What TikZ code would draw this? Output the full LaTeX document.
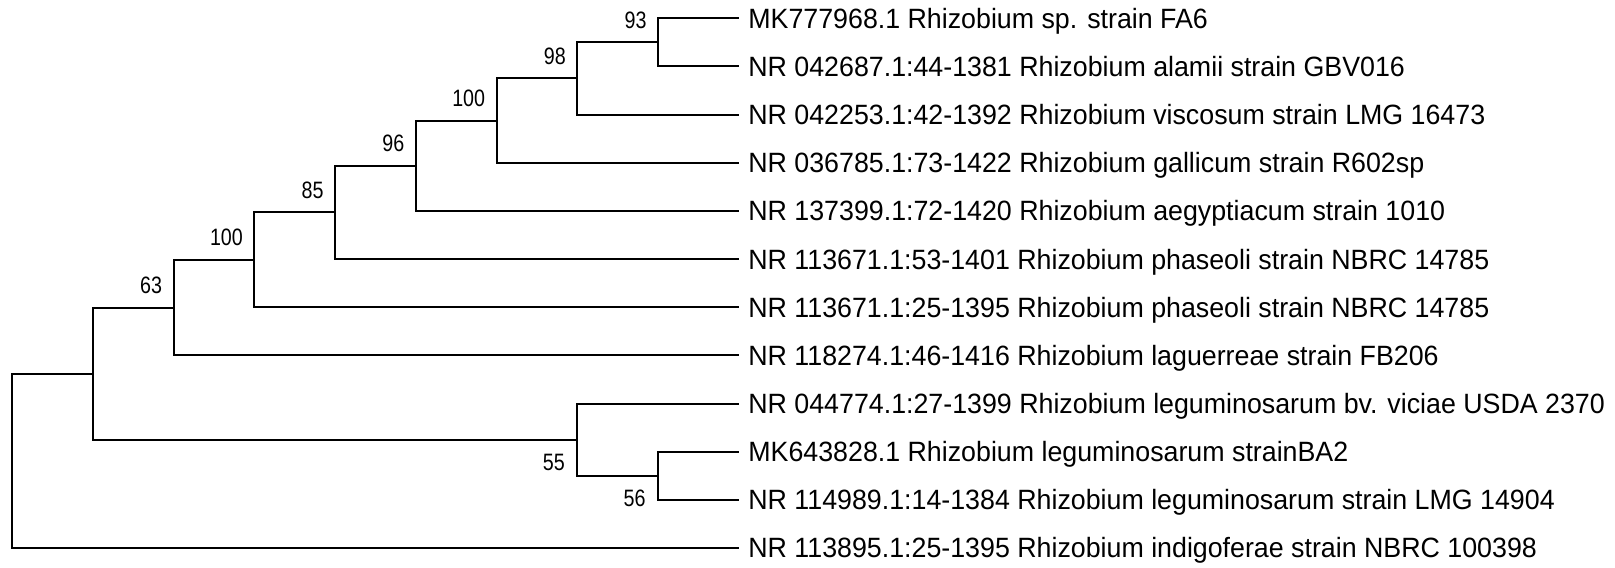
\documentclass[tikz,border=0pt]{standalone}
\usepackage{fontspec}
\setmainfont{Liberation Sans}
\newfontfamily\taxonfont[FakeStretch=0.96]{Liberation Sans}
\newfontfamily\bootfont[FakeStretch=0.83]{Liberation Sans}
\usetikzlibrary{positioning}

\begin{document}
\begin{tikzpicture}[
    x=0.5pt, y=-0.5pt,
    branch/.style={draw=black, line width=1pt},
    taxon/.style={anchor=base west, inner sep=0pt, xshift=4.6pt, yshift=-5pt, font=\taxonfont\fontsize{13.95}{16}\selectfont},
    boot/.style={inner sep=0pt, font=\bootfont\fontsize{11.85}{14}\selectfont},
  ]
  \useasboundingbox (0,0) rectangle (1615,567);
  % --- tips
  \coordinate (t1)  at (738.75,18.3);
  \coordinate (t2)  at (738.75,66.45);
  \coordinate (t3)  at (738.75,114.6);
  \coordinate (t4)  at (738.75,162.75);
  \coordinate (t5)  at (738.75,210.9);
  \coordinate (t6)  at (738.75,259.05);
  \coordinate (t7)  at (738.75,307.2);
  \coordinate (t8)  at (738.75,355.35);
  \coordinate (t9)  at (738.75,403.5);
  \coordinate (t10) at (738.75,451.65);
  \coordinate (t11) at (738.75,499.8);
  \coordinate (t12) at (738.75,547.95);
  % --- inner nodes
  \coordinate (root)  at (12,460.8);
  \coordinate (ingrp) at (92.75,373.6);
  \coordinate (c63)   at (173.5,307.6);
  \coordinate (c100b) at (254.25,259.8);
  \coordinate (c85)   at (335,212.4);
  \coordinate (c96)   at (415.75,165.76);
  \coordinate (c100a) at (496.5,120.62);
  \coordinate (c98)   at (577.25,78.5);
  \coordinate (c93)   at (658,42.4);
  \coordinate (c55)   at (577.25,439.6);
  \coordinate (c56)   at (658,475.7);
  % --- taxa
  \node[taxon] (l1)  at (t1)  {MK777968.1 Rhizobium sp. strain FA6};
  \node[taxon] (l2)  at (t2)  {NR 042687.1:44-1381 Rhizobium alamii strain GBV016};
  \node[taxon] (l3)  at (t3)  {NR 042253.1:42-1392 Rhizobium viscosum strain LMG 16473};
  \node[taxon] (l4)  at (t4)  {NR 036785.1:73-1422 Rhizobium gallicum strain R602sp};
  \node[taxon] (l5)  at (t5)  {NR 137399.1:72-1420 Rhizobium aegyptiacum strain 1010};
  \node[taxon] (l6)  at (t6)  {NR 113671.1:53-1401 Rhizobium phaseoli strain NBRC 14785};
  \node[taxon] (l7)  at (t7)  {NR 113671.1:25-1395 Rhizobium phaseoli strain NBRC 14785};
  \node[taxon] (l8)  at (t8)  {NR 118274.1:46-1416 Rhizobium laguerreae strain FB206};
  \node[taxon] (l9)  at (t9)  {NR 044774.1:27-1399 Rhizobium leguminosarum bv. viciae USDA 2370};
  \node[taxon] (l10) at (t10) {MK643828.1 Rhizobium leguminosarum strainBA2};
  \node[taxon] (l11) at (t11) {NR 114989.1:14-1384 Rhizobium leguminosarum strain LMG 14904};
  \node[taxon] (l12) at (t12) {NR 113895.1:25-1395 Rhizobium indigoferae strain NBRC 100398};
  % --- branches
  \draw[branch] (root)  |- (ingrp);
  \draw[branch] (root)  |- (t12);
  \draw[branch] (ingrp) |- (c63);
  \draw[branch] (ingrp) |- (c55);
  \draw[branch] (c63)   |- (c100b);
  \draw[branch] (c63)   |- (t8);
  \draw[branch] (c100b) |- (c85);
  \draw[branch] (c100b) |- (t7);
  \draw[branch] (c85)   |- (c96);
  \draw[branch] (c85)   |- (t6);
  \draw[branch] (c96)   |- (c100a);
  \draw[branch] (c96)   |- (t5);
  \draw[branch] (c100a) |- (c98);
  \draw[branch] (c100a) |- (t4);
  \draw[branch] (c98)   |- (c93);
  \draw[branch] (c98)   |- (t3);
  \draw[branch] (c93)   |- (t1);
  \draw[branch] (c93)   |- (t2);
  \draw[branch] (c55)   |- (t9);
  \draw[branch] (c55)   |- (c56);
  \draw[branch] (c56)   |- (t10);
  \draw[branch] (c56)   |- (t11);
  % --- bootstrap values
  \node[boot, above left=6.75pt and 5.5pt of c63]   (bs63)   {63};
  \node[boot, above left=6.75pt and 5.5pt of c100b] (bs100b) {100};
  \node[boot, above left=6.75pt and 5.5pt of c85]   (bs85)   {85};
  \node[boot, above left=6.75pt and 5.5pt of c96]   (bs96)   {96};
  \node[boot, above left=6.75pt and 5.5pt of c100a] (bs100a) {100};
  \node[boot, above left=6.75pt and 5.5pt of c98]   (bs98)   {98};
  \node[boot, above left=6.75pt and 5.5pt of c93]   (bs93)   {93};
  \node[boot, below left=7pt and 6pt of c55]        (bs55)   {55};
  \node[boot, below left=7pt and 6pt of c56]        (bs56)   {56};
\end{tikzpicture}
\end{document}
